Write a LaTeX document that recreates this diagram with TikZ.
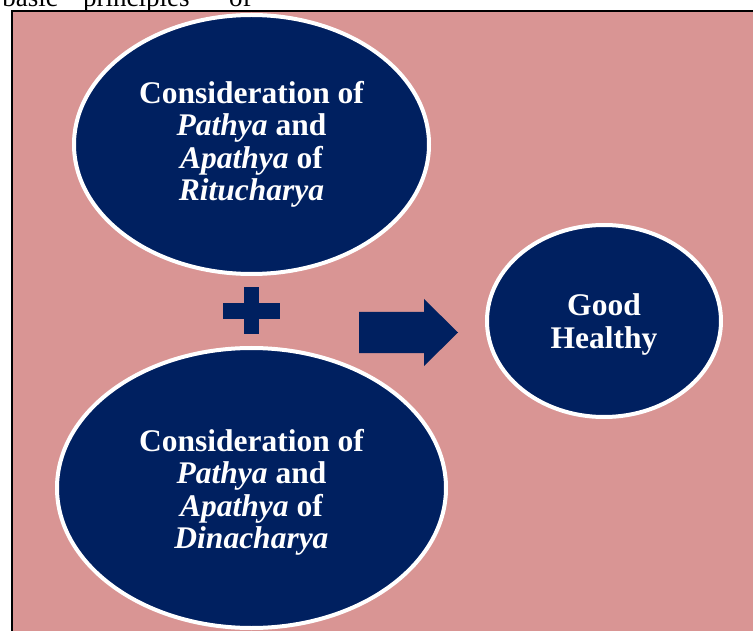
\documentclass[tikz,border=0pt]{standalone}
\usepackage{fontspec}
\setmainfont{Liberation Serif}
\usetikzlibrary{shapes.geometric}
\definecolor{navy}{HTML}{002060}
\definecolor{rosy}{HTML}{D99594}

\begin{document}
\begin{tikzpicture}[x=1pt, y=-1pt, main node/.style={ellipse, draw=white, line width=4pt, fill=navy, text=white, align=center, inner sep=0pt, font=\fontsize{31.5}{32.5}\selectfont\bfseries}]
        \tikzstyle{every node}=[font=\fontsize{27}{29}\selectfont]
        \clip (0,0) rectangle (753,631);

        % page text above the box
        \node[anchor=base east, inner sep=0pt] (t1) at (58,6.5) {basic};
        \node[anchor=base west, inner sep=0pt] (t2) at (83,6.5) {principles};
        \node[anchor=base west, inner sep=0pt] (t3) at (229,6.5) {of};

        % box
        \fill[rosy] (12,11) rectangle (770,650);
        \draw[line width=1.5pt] (12,650) -- (12,11) -- (770,11);

          \node[main node, minimum width=355pt, minimum height=259pt] (1) at (251.5,144.5) {Consideration of\\ \textit{Pathya} and\\ \textit{Apathya} of\\ \textit{Ritucharya}};
          \node[main node, minimum width=389pt, minimum height=280pt] (2) at (251.5,488) {\\[-2pt]Consideration of\\ \textit{Pathya} and\\ \textit{Apathya} of\\ \textit{Dinacharya}};
          \node[main node, minimum width=234pt, minimum height=192pt] (3) at (604,321) {};
          \node[text=white, align=center, font=\fontsize{31.5}{32.5}\selectfont\bfseries] (3t) at ([yshift=-3.5pt]3.center) {Good\\ Healthy};

        % plus and arrow
        \fill[navy] (244,287) rectangle (259,334);
        \fill[navy] (223,303) rectangle (280,319);
        \fill[navy] (359,312) -- (424,312) -- (424,299) -- (458,332.5) -- (424,366) -- (424,353) -- (359,353) -- cycle;

        \end{tikzpicture}
\end{document}
